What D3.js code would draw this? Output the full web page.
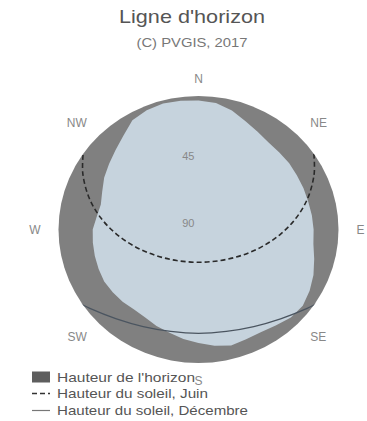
<!DOCTYPE html>
<html><head><meta charset="utf-8">
<script src="https://cdn.jsdelivr.net/npm/d3@7"></script>
<style>body{margin:0;background:#fff}svg{display:block;font-family:"Liberation Sans",Arial,sans-serif}</style>
</head><body><svg id="c" width="367" height="421"></svg>
<script>
// Horizon profile: azimuth (deg, clockwise from N) and horizon height (deg)
const horizonAz = [0,7.5,15,22.5,30,37.5,45,52.5,60,67.5,75,82.5,90,97.5,105,112.5,120,127.5,135,142.5,150,157.5,165,172.5,180,187.5,195,202.5,210,217.5,225,232.5,240,247.5,255,262.5,270,277.5,285,292.5,300,307.5,315,322.5,330,337.5,345,352.5];
const horizonH  = [3,4,7,11,14,16,16.5,16.5,17,17,17,16.5,16,15.5,13,10,7.5,5.5,6,8.5,10,10,9,11,13.5,15.5,18,19.5,21.5,22,21,20.5,20,20.5,21,21.5,22,24,25,23,20,17.5,14.5,10.5,5,3,2,2.5];
// Sun path, June (azimuth, elevation)
const juneAz = [55.5,63.2,73.1,83.0,93.5,105.8,122.1,146.1,180,213.9,237.9,254.2,266.5,277.0,286.9,296.8,304.5];
const juneH  = [0,6.7,16.5,26.8,37.3,47.6,57.2,64.8,67.9,64.8,57.2,47.6,37.3,26.8,16.5,6.7,0];
// Sun path, December
const decAz = [122,124.5,127.3,138.8,151.5,165.4,180,194.6,208.5,221.2,232.7,235.5,238];
const decH  = [-2,0,2.2,9.9,15.5,19,20,19,15.5,9.9,2.2,0,-2];
const dirLabels = ["N","NE","E","SE","S","SW","W","NW"];
const dirAz = [0,45,90,135,180,225,270,315];
const radialTicks = [45,90];
const legendItems = ["Hauteur de l'horizon","Hauteur du soleil, Juin","Hauteur du soleil, Décembre"];
const legendWidths = [138,151,191];

const svg = d3.select("#c");
const cx = 198.5, cy = 229.5, rx = 140, ry = 133.5;
const rScale = d3.scaleLinear().domain([90,0]).range([0,1]);
const rad = d => d*Math.PI/180;
const px = (az,h) => cx + rx*rScale(h)*Math.sin(rad(az));
const py = (az,h) => cy - ry*rScale(h)*Math.cos(rad(az));

svg.append("text").attr("x",192).attr("y",23).attr("text-anchor","middle")
  .attr("font-size",19).attr("fill","#555")
  .attr("textLength",146).attr("lengthAdjust","spacingAndGlyphs").text("Ligne d'horizon");
svg.append("text").attr("x",192).attr("y",46.5).attr("text-anchor","middle")
  .attr("font-size",13.5).attr("fill","#777")
  .attr("textLength",111).attr("lengthAdjust","spacingAndGlyphs").text("(C) PVGIS, 2017");

svg.append("defs").append("clipPath").attr("id","clip")
  .append("ellipse").attr("cx",cx).attr("cy",cy).attr("rx",rx).attr("ry",ry);

svg.append("ellipse").attr("cx",cx).attr("cy",cy).attr("rx",rx).attr("ry",ry).attr("fill","#808080");

const sky = horizonAz.map((a,i)=>[px(a,horizonH[i]), py(a,horizonH[i])]);
svg.append("path").attr("d", d3.line().curve(d3.curveLinearClosed)(sky)).attr("fill","#c6d3dd");

radialTicks.forEach(t=>{
  svg.append("text").attr("x",cx-4).attr("y",py(0,t)-3).attr("text-anchor","end")
    .attr("font-size",11).attr("fill","#888").text(t);
});

const g = svg.append("g").attr("clip-path","url(#clip)");
const line = d3.line().curve(d3.curveCatmullRom);
g.append("path").attr("d", line(juneAz.map((a,i)=>[px(a,juneH[i]),py(a,juneH[i])])))
  .attr("fill","none").attr("stroke","#2a2a2a").attr("stroke-width",1.6).attr("stroke-dasharray","5,3");
g.append("path").attr("d", line(decAz.map((a,i)=>[px(a,decH[i]),py(a,decH[i])])))
  .attr("fill","none").attr("stroke","#4b5560").attr("stroke-width",1.2);

dirLabels.forEach((l,i)=>{
  const a = rad(dirAz[i]);
  const s = Math.sin(a);
  const anchor = Math.abs(s) < 0.01 ? "middle" : (s > 0 ? "start" : "end");
  svg.append("text").attr("x",cx+158*s).attr("y",cy-151*Math.cos(a)+4.3)
    .attr("text-anchor",anchor).attr("font-size",12).attr("fill","#888").text(l);
});

const lg = svg.append("g").attr("transform","translate(32,0)");
const rowY = [377,393.5,410.5];
lg.append("rect").attr("x",0).attr("y",rowY[0]-5.5).attr("width",18).attr("height",11).attr("fill","#5e5e5e");
lg.append("line").attr("x1",0).attr("x2",18).attr("y1",rowY[1]).attr("y2",rowY[1])
  .attr("stroke","#333").attr("stroke-width",1.6).attr("stroke-dasharray","5,3");
lg.append("line").attr("x1",0).attr("x2",18).attr("y1",rowY[2]).attr("y2",rowY[2])
  .attr("stroke","#777").attr("stroke-width",1.2);
legendItems.forEach((t,i)=>{
  lg.append("text").attr("x",25).attr("y",rowY[i]+4.8).attr("font-size",13.5).attr("fill","#555")
    .attr("textLength",legendWidths[i]).attr("lengthAdjust","spacingAndGlyphs").text(t);
});
</script></body></html>
